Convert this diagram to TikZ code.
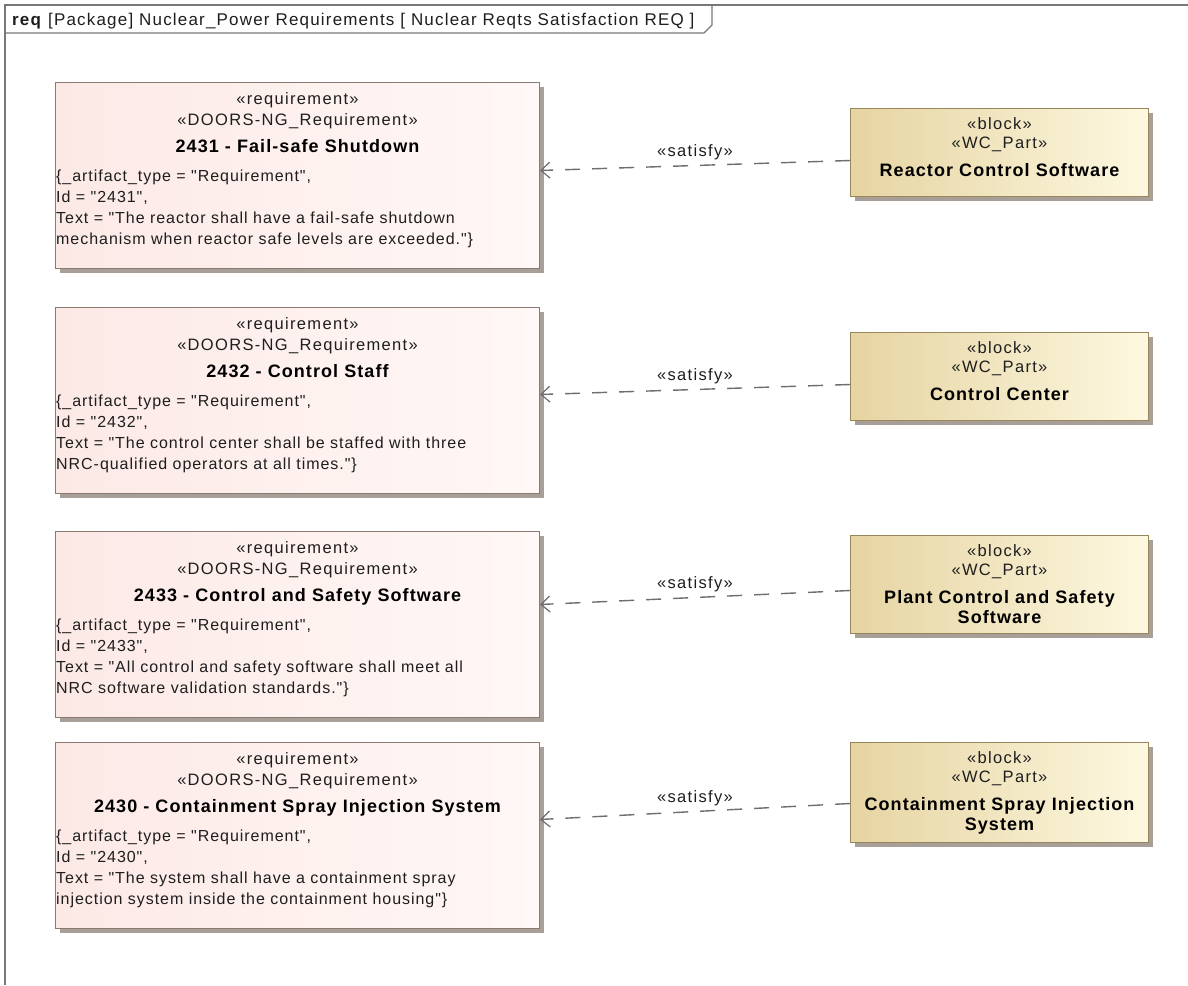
\documentclass[tikz,border=0pt]{standalone}
\usepackage{fontspec}
\setmainfont{Liberation Sans}
\newfontfamily\bodyf[LetterSpace=6]{Liberation Sans}
\newfontfamily\sterf[LetterSpace=8]{Liberation Sans}
\newfontfamily\hdrf[LetterSpace=7]{Liberation Sans}
\newfontfamily\titf[LetterSpace=6]{Liberation Sans}
\usetikzlibrary{shadows,arrows.meta}
\definecolor{reqL}{HTML}{FCE9E6}
\definecolor{reqR}{HTML}{FFF8F6}
\definecolor{reqdraw}{HTML}{8A7A72}
\definecolor{blkL}{HTML}{E6D4A2}
\definecolor{blkR}{HTML}{FDF8E0}
\definecolor{blkdraw}{HTML}{968659}
\definecolor{shadowc}{HTML}{A8A098}
\definecolor{framec}{HTML}{787878}
\definecolor{txt}{HTML}{1E1E1E}
\definecolor{arrc}{HTML}{6E6E6E}
\tikzset{
  reqbox/.style={draw=reqdraw, line width=1pt, left color=reqL, right color=reqR,
    minimum width=484pt, minimum height=186pt, inner sep=0pt,
    drop shadow={shadow xshift=4pt,shadow yshift=-4pt,fill=shadowc,opacity=1}},
  blkbox/.style={draw=blkdraw, line width=1pt, left color=blkL, right color=blkR,
    minimum width=298pt, minimum height=#1, inner sep=0pt,
    drop shadow={shadow xshift=4pt,shadow yshift=-4pt,fill=shadowc,opacity=1}},
  stereo/.style={font=\sterf\fontsize{16.5}{20}\selectfont, text=txt, inner sep=0pt},
  body/.style={font=\bodyf\fontsize{16}{20}\selectfont, text=txt, inner sep=0pt},
  ttl/.style={font=\titf\bfseries\fontsize{18}{20}\selectfont, text=black, inner sep=0pt},
  satisfy/.style={draw=arrc, line width=1.4pt, dash pattern=on 15pt off 12pt,
    -{Straight Barb[length=9pt,width=16pt,line width=1.2pt]}},
  satlabel/.style={font=\sterf\fontsize{16.5}{20}\selectfont, text=txt, inner sep=0pt}
}
\newcommand\ReqBox[6]{%
  \node[reqbox, anchor=north west] (#1) at (55,#2) {};
  \node[stereo, anchor=base] (#1-s1) at ([yshift=-22pt]#1.north) {«requirement»};
  \node[stereo, anchor=base] (#1-s2) at ([yshift=-43pt]#1.north) {«DOORS-NG\_Requirement»};
  \node[ttl, anchor=base] (#1-t) at ([yshift=-70pt]#1.north) {#3};
  \node[body, anchor=base west] (#1-l1) at ([xshift=1pt,yshift=-99pt]#1.north west) {\{\_artifact\_type = "Requirement",};
  \node[body, anchor=base west] (#1-l2) at ([xshift=1pt,yshift=-120pt]#1.north west) {Id = "#4",};
  \node[body, anchor=base west] (#1-l3) at ([xshift=1pt,yshift=-141pt]#1.north west) {#5};
  \node[body, anchor=base west] (#1-l4) at ([xshift=1pt,yshift=-162pt]#1.north west) {#6};
}
\newcommand\BlkBox[4]{%
  \node[blkbox=#3, anchor=north west] (#1) at (850,#2) {};
  \node[stereo, anchor=base] (#1-s1) at ([yshift=-21pt]#1.north) {«block»};
  \node[stereo, anchor=base] (#1-s2) at ([yshift=-40pt]#1.north) {«WC\_Part»};
  \node[ttl, anchor=base] (#1-t) at ([yshift=-68pt]#1.north) {#4};
}
\begin{document}
\begin{tikzpicture}[x=1pt,y=-1pt]
\useasboundingbox[fill=white] (0,0) rectangle (1188,985);
% frame
\draw[framec, line width=1.8pt] (5,985) -- (5,5) -- (1188,5);
\draw[framec, line width=1.2pt] (5,33) -- (704,33) -- (712,25) -- (712,5);
\node[anchor=base west, inner sep=0pt, text=txt, font=\hdrf\fontsize{17}{20}\selectfont] (hdr) at (12,25)
  {\textbf{req} [Package] Nuclear\_Power Requirements [ Nuclear Reqts Satisfaction REQ ]};
% requirements
\ReqBox{r1}{82}{2431 - Fail-safe Shutdown}{2431}
  {Text = "The reactor shall have a fail-safe shutdown}
  {mechanism when reactor safe levels are exceeded."\}}
\ReqBox{r2}{307}{2432 - Control Staff}{2432}
  {Text = "The control center shall be staffed with three}
  {NRC-qualified operators at all times."\}}
\ReqBox{r3}{531}{2433 - Control and Safety Software}{2433}
  {Text = "All control and safety software shall meet all}
  {NRC software validation standards."\}}
\ReqBox{r4}{742}{2430 - Containment Spray Injection System}{2430}
  {Text = "The system shall have a containment spray}
  {injection system inside the containment housing"\}}
% blocks
\BlkBox{b1}{108}{88pt}{Reactor Control Software}
\BlkBox{b2}{332}{88pt}{Control Center}
\BlkBox{b3}{535}{98pt}{Plant Control and Safety}
\node[ttl, anchor=base] (b3-t2) at ([yshift=-88pt]b3.north) {Software};
\BlkBox{b4}{742}{100pt}{Containment Spray Injection}
\node[ttl, anchor=base] (b4-t2) at ([yshift=-88pt]b4.north) {System};
% satisfy connectors
\draw[satisfy] ([yshift=-8pt]b1.west) -- ([yshift=5pt]r1.east) node[satlabel, midway, above=5pt] (s1) {«satisfy»};
\draw[satisfy] ([yshift=-8pt]b2.west) -- ([yshift=6pt]r2.east) node[satlabel, midway, above=5pt] (s2) {«satisfy»};
\draw[satisfy] ([yshift=-6pt]b3.west) -- ([yshift=20pt]r3.east) node[satlabel, midway, above=5pt] (s3) {«satisfy»};
\draw[satisfy] ([yshift=-11pt]b4.west) -- ([yshift=16pt]r4.east) node[satlabel, midway, above=5pt] (s4) {«satisfy»};
\end{tikzpicture}
\end{document}
